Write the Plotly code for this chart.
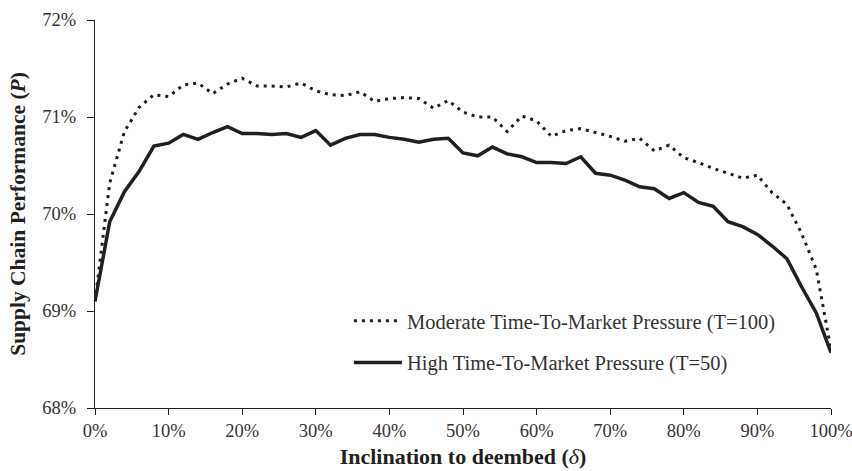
import plotly.graph_objects as go

# Inclination to deembed (delta), in percent
delta = list(range(0, 101, 2))

# Supply chain performance (%) under moderate time-to-market pressure (T=100)
perf_moderate = [
    69.10, 70.32, 70.85, 71.10, 71.23, 71.21, 71.33, 71.35, 71.24, 71.34,
    71.40, 71.32, 71.32, 71.31, 71.35, 71.27, 71.23, 71.22, 71.26, 71.16,
    71.19, 71.20, 71.19, 71.09, 71.17, 71.05, 71.00, 71.00, 70.85, 71.01,
    70.96, 70.80, 70.86, 70.88, 70.84, 70.80, 70.75, 70.78, 70.65, 70.71,
    70.58, 70.53, 70.47, 70.42, 70.37, 70.40, 70.22, 70.10, 69.80, 69.43,
    68.60,
]

# Supply chain performance (%) under high time-to-market pressure (T=50)
perf_high = [
    69.10, 69.92, 70.23, 70.44, 70.70, 70.73, 70.82, 70.77, 70.84, 70.90,
    70.83, 70.83, 70.82, 70.83, 70.79, 70.86, 70.71, 70.78, 70.82, 70.82,
    70.79, 70.77, 70.74, 70.77, 70.78, 70.63, 70.60, 70.69, 70.62, 70.59,
    70.53, 70.53, 70.52, 70.59, 70.42, 70.40, 70.35, 70.28, 70.26, 70.16,
    70.22, 70.12, 70.08, 69.92, 69.87, 69.79, 69.67, 69.54, 69.25, 68.98,
    68.57,
]

series_names = [
    "Moderate Time-To-Market Pressure (T=100)",
    "High Time-To-Market Pressure (T=50)",
]

serif = "Liberation Serif, Times New Roman, serif"
ink = "#231f20"
label_ink = "#333333"

fig = go.Figure()
fig.add_trace(go.Scatter(
    x=delta, y=perf_moderate, mode="lines", name=series_names[0],
    legendgroup="a",
    line=dict(color=ink, width=3, dash="3px,5px"),
))
fig.add_trace(go.Scatter(
    x=delta, y=perf_high, mode="lines", name=series_names[1],
    legendgroup="b",
    line=dict(color=ink, width=3.5),
))

axis_common = dict(
    showline=True, linecolor=ink, linewidth=1.2, mirror=False,
    showgrid=False, zeroline=False, automargin=False,
    ticks="outside", tickwidth=1.2, tickcolor=ink,
    tickfont=dict(family=serif, size=18.5, color=label_ink),
    ticksuffix="%", ticklabeloverflow="allow",
)

fig.update_layout(
    width=852, height=471,
    margin=dict(l=95, r=21, t=20, b=63),
    paper_bgcolor="white", plot_bgcolor="white",
    font=dict(family=serif, color=ink),
    xaxis=dict(range=[0, 100], dtick=10, tick0=0, ticklen=6,
               title=dict(text="<b>Inclination to deembed (</b><i>δ</i><b>)</b>",
                          font=dict(family=serif, size=22, color=ink), standoff=8),
               **axis_common),
    yaxis=dict(range=[68, 72], dtick=1, tick0=68, ticklen=7, ticklabelstandoff=7,
               title=dict(text="<b>Supply Chain Performance (<i>P</i>)</b>",
                          font=dict(family=serif, size=21.5, color=ink), standoff=10),
               **axis_common),
    legend=dict(
        x=0.345, y=0.276, xanchor="left", yanchor="top",
        bgcolor="rgba(0,0,0,0)", borderwidth=0,
        font=dict(family=serif, size=20.5, color=label_ink),
        itemwidth=48, tracegroupgap=12, traceorder="grouped",
    ),
    showlegend=True,
)

fig.write_html("out.html")
